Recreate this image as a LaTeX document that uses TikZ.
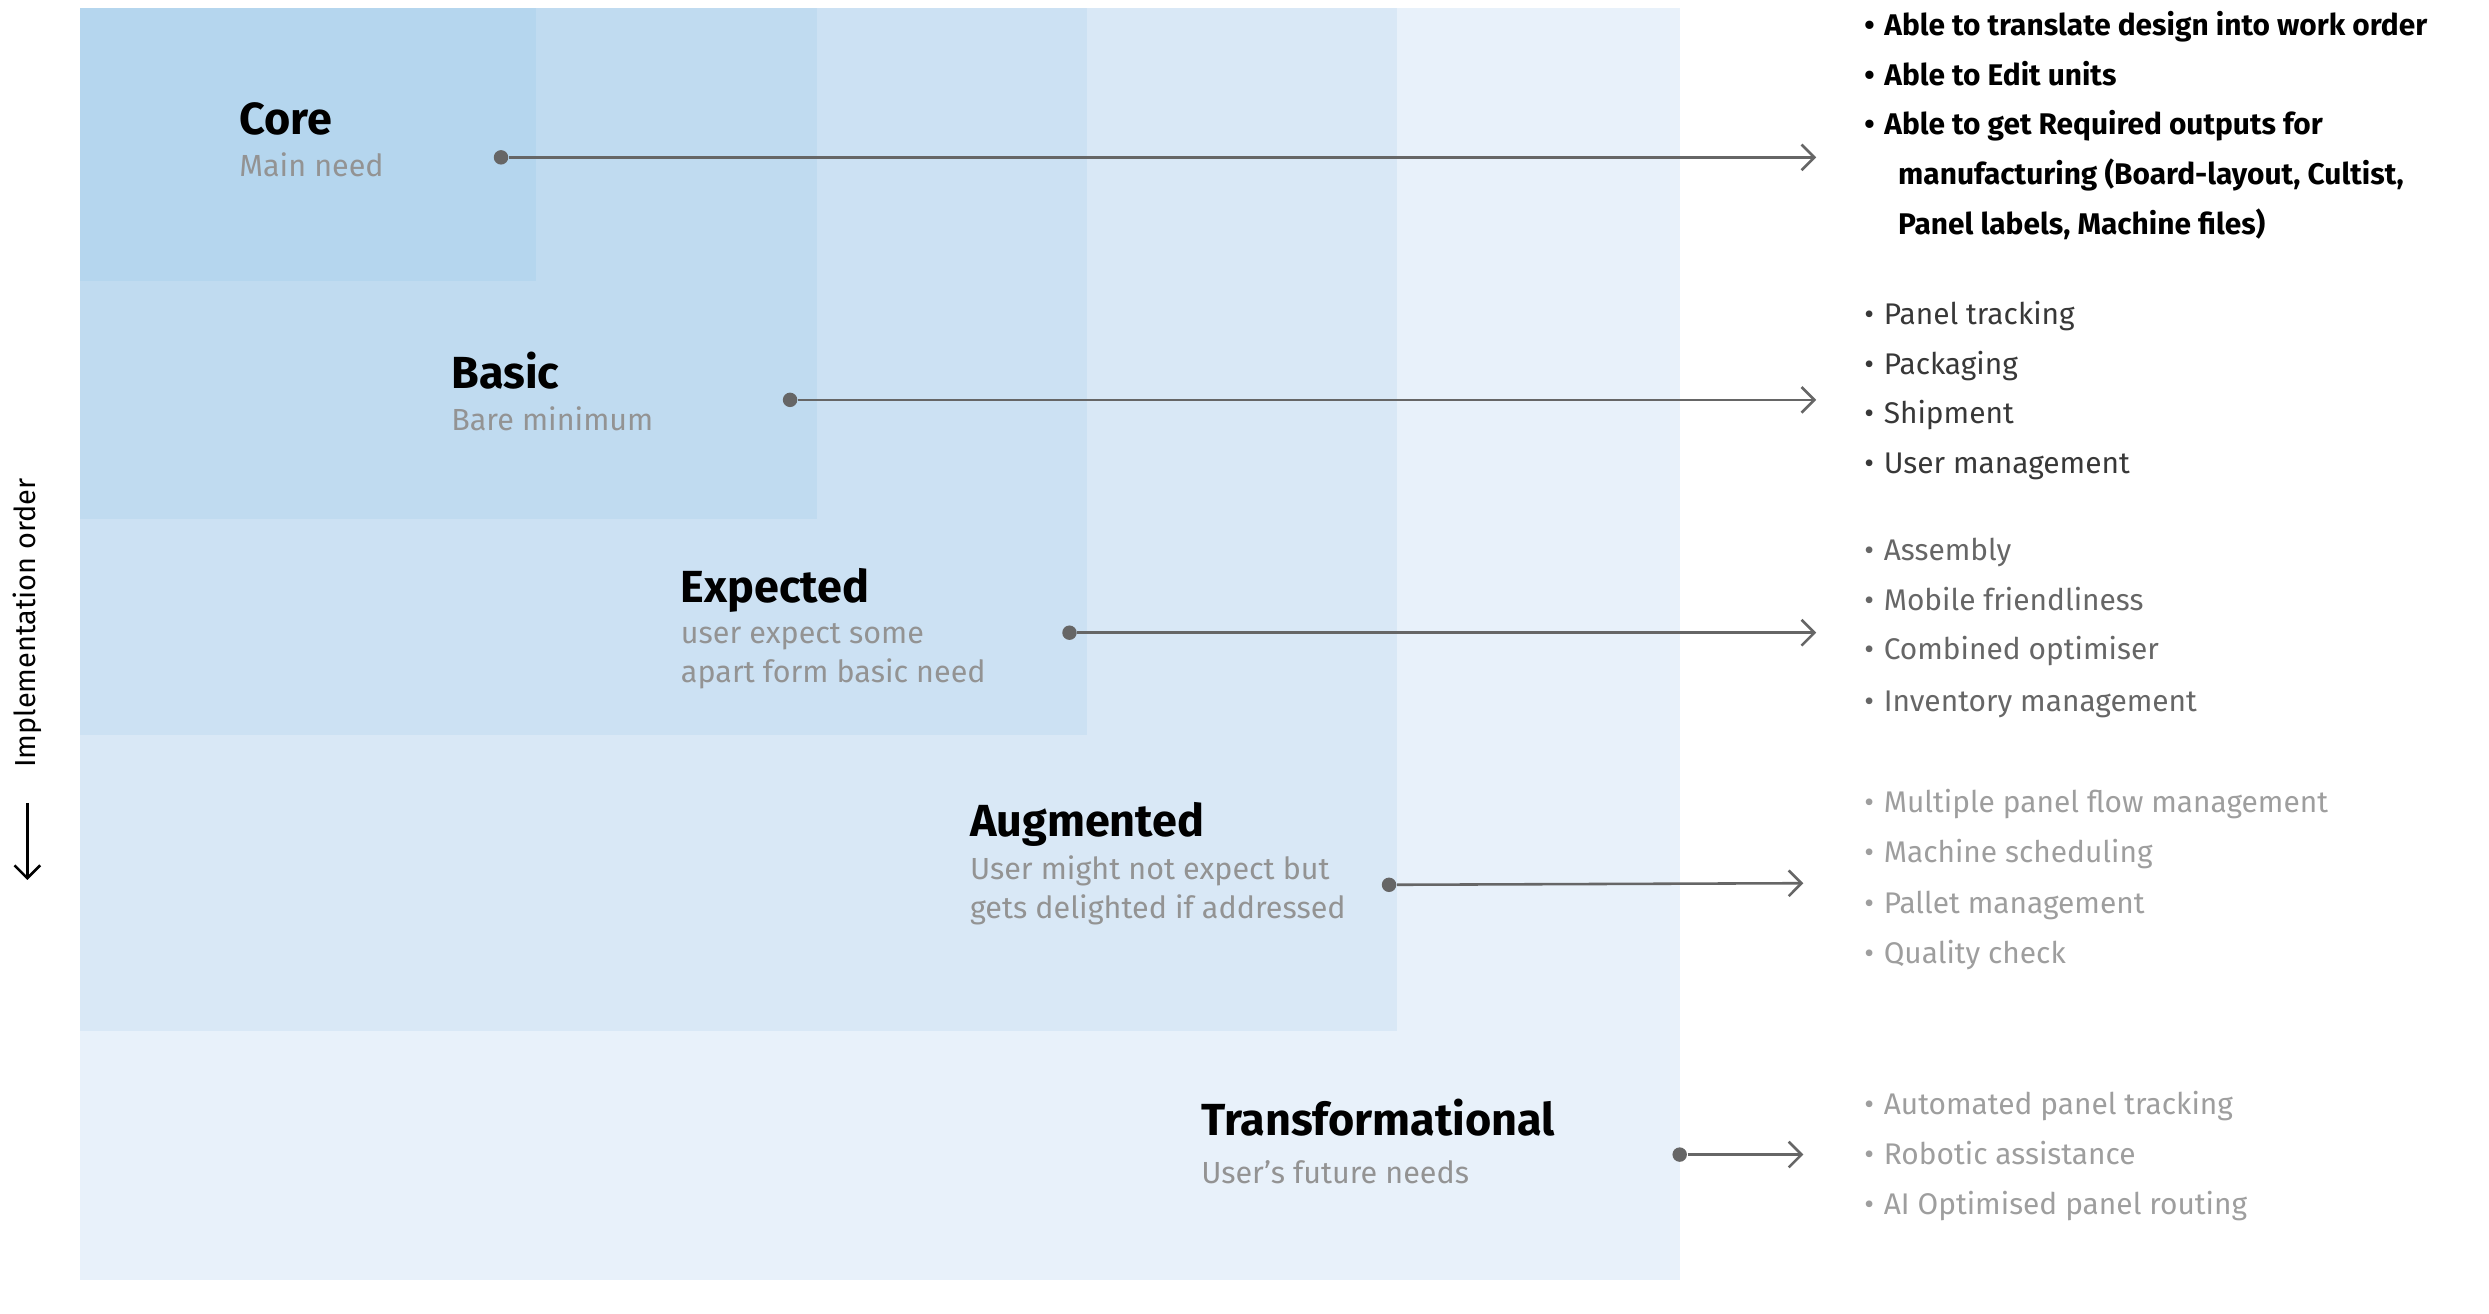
\documentclass[tikz,border=0pt]{standalone}
\usepackage{fontspec}
\setmainfont{Fira Sans}
\usetikzlibrary{arrows.meta}
\begin{document}
\begin{tikzpicture}[x=0.5pt,y=-0.5pt,
  ttl/.style={anchor=base west,font=\fontsize{14}{16}\selectfont\bfseries\color{black}},
  sub/.style={anchor=base west,font=\fontsize{9.5}{12}\selectfont,text=gray!85},
  con/.style={draw=black!60,line width=0.8pt,-{Straight Barb[length=4pt]}},
  dot/.style={circle,fill=black!60,inner sep=0pt,minimum size=4.5pt},
  itm/.style={anchor=base west,font=\fontsize{9.3}{12}\selectfont}]
\useasboundingbox (0,0) rectangle (1550,818);
\fill[fill={rgb,255:red,232;green,241;blue,250}] (50,5) rectangle (1046,797);
\fill[fill={rgb,255:red,217;green,232;blue,246}] (50,5) rectangle (870,642);
\fill[fill={rgb,255:red,204;green,225;blue,243}] (50,5) rectangle (677,458);
\fill[fill={rgb,255:red,192;green,219;blue,240}] (50,5) rectangle (509,323);
\fill[fill={rgb,255:red,181;green,214;blue,238}] (50,5) rectangle (334,175);
\fill[fill={rgb,255:red,232;green,241;blue,250}] (870,5) rectangle (1046,642);

\node[ttl] (tcore) at (142,84) {Core};
\node[sub] (score) at (142,110) {Main need};
\node[ttl] (tbasic) at (274,242) {Basic};
\node[sub] (sbasic) at (274,268) {Bare minimum};
\node[ttl] (texp) at (417,375) {Expected};
\node[sub] (sexp) at (417,401) {user expect some};
\node[sub] (sexp2) at (417,425) {apart form basic need};
\node[ttl] (taug) at (597,521) {Augmented};
\node[sub] (saug) at (597,548) {User might not expect but};
\node[sub] (saug2) at (597,572) {gets delighted if addressed};
\node[ttl] (ttr) at (741,707) {Transformational};
\node[sub] (str) at (741,737) {User’s future needs};

\node[dot] (d1) at (312,98) {};
\node[dot] (d2) at (492,249) {};
\node[dot] (d3) at (666,394) {};
\node[dot] (d4) at (865,551) {};
\node[dot] (d5) at (1046,719) {};
\coordinate (e1) at (1131,98);
\coordinate (e2) at (1131,249);
\coordinate (e3) at (1131,394);
\coordinate (e4) at (1123,550);
\coordinate (e5) at (1123,719);
\foreach \i in {1,...,5}{\draw[con] (d\i) -- (e\i);}

\foreach \y/\t in {16/Able to translate design into work order,47/Able to Edit units,78/Able to get Required outputs for}
  {\node[itm,font=\fontsize{9.3}{12}\selectfont\bfseries] at (1154,\y+6) {•\hspace{3pt}\t};}
\node[itm,font=\fontsize{9.3}{12}\selectfont\bfseries] (c4) at (1175,115) {manufacturing (Board-layout, Cultist,};
\node[itm,font=\fontsize{9.3}{12}\selectfont\bfseries] (c5) at (1175,146) {Panel labels, Machine files)};
\foreach \y/\t in {196/Panel tracking,227/Packaging,258/Shipment,289/User management}
  {\node[itm,text=black!78] at (1154,\y+6) {•\hspace{3pt}\t};}
\foreach \y/\t in {343/Assembly,374/Mobile friendliness,405/Combined optimiser,437/Inventory management}
  {\node[itm,text=black!60] at (1154,\y+6) {•\hspace{3pt}\t};}
\foreach \y/\t in {500/Multiple panel flow management,531/Machine scheduling,563/Pallet management,594/Quality check}
  {\node[itm,text=black!38] at (1154,\y+6) {•\hspace{3pt}\t};}
\foreach \y/\t in {688/Automated panel tracking,719/Robotic assistance,750/AI Optimised panel routing}
  {\node[itm,text=black!38] at (1154,\y+6) {•\hspace{3pt}\t};}

\node[rotate=90,font=\fontsize{9}{11}\selectfont,anchor=center] (impl) at (17,388) {Implementation order};
\coordinate (ia) at (17,500);
\coordinate (ib) at (17,548);
\draw[line width=0.8pt,-{Straight Barb[length=4pt]}] (ia) -- (ib);
\end{tikzpicture}
\end{document}
